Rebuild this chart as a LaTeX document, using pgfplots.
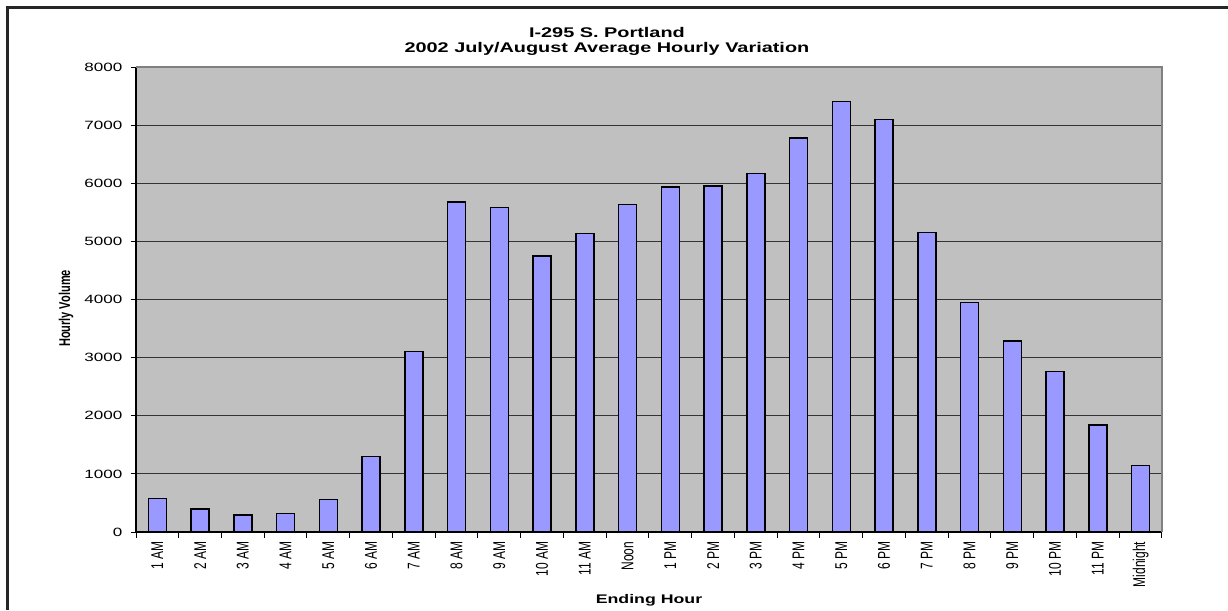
\documentclass[border=0pt]{standalone}
\usepackage{fontspec}
\setmainfont{Liberation Sans}
\newfontfamily\wide[FakeStretch=1.42]{Liberation Sans}
\usepackage{graphicx}
\usepackage{pgfplots}
\pgfplotsset{compat=1.18}

\definecolor{barblue}{HTML}{9999FF}
\definecolor{plotbg}{HTML}{C0C0C0}
\definecolor{edgegray}{HTML}{808080}

% rotated tick label, stretched sideways like the source image
\newcommand\rl[1]{\scalebox{1.42}[1]{\rotatebox{90}{#1}}}

\begin{document}
\begin{tikzpicture}
\path[use as bounding box] (0,0) rectangle (1228pt,610pt);
\draw[line width=3pt, black!85] (7.5pt,0) -- (7.5pt,602.5pt) -- (1228pt,602.5pt);

\begin{axis}[
    at={(136pt,78pt)}, anchor=south west,
    width=1026pt, height=465pt, scale only axis,
    xmin=0.5, xmax=24.5,
    ymin=0, ymax=8000,
    ytick={0,1000,...,8000},
    xtick={0.5,1.5,...,24.5},
    x tick label as interval,
    xticklabels={\rl{1 AM},\rl{2 AM},\rl{3 AM},\rl{4 AM},\rl{5 AM},\rl{6 AM},
        \rl{7 AM},\rl{8 AM},\rl{9 AM},\rl{10 AM},\rl{11 AM},\rl{Noon},
        \rl{1 PM},\rl{2 PM},\rl{3 PM},\rl{4 PM},\rl{5 PM},\rl{6 PM},
        \rl{7 PM},\rl{8 PM},\rl{9 PM},\rl{10 PM},\rl{11 PM},\rl{Midnight}},
    axis lines*=left,
    axis line style={-, black, line width=1.2pt},
    axis background/.style={fill=plotbg},
    tick align=outside,
    major tick length=5.5pt,
    tick style={black, line width=1pt},
    ymajorgrids=true,
    grid style={black!80, line width=1.1pt},
    /pgf/number format/assume math mode=true,
    /pgf/number format/1000 sep={},
    yticklabel style={font=\fontsize{12}{14}\wide, inner sep=0pt, xshift=-8pt},
    xticklabel style={font=\fontsize{12}{14}\selectfont, inner sep=0pt, anchor=north, yshift=-4pt},
    every axis title/.style={at={(axis description cs:0.459,1)}, anchor=south,
        align=center, inner sep=0pt, yshift=11.5pt,
        font=\fontsize{14}{14.5}\wide\bfseries},
    title={I-295 S. Portland\\2002 July/August Average Hourly Variation},
    every axis x label/.style={at={(axis description cs:0.5,0)}, anchor=base,
        yshift=-71pt, font=\fontsize{12.5}{14}\wide\bfseries},
    xlabel={Ending Hour},
    every axis y label/.style={at={(axis description cs:0,0.5)}, anchor=center,
        xshift=-70pt, yshift=-9pt, font=\fontsize{11}{13}\selectfont\bfseries},
    ylabel={\rl{Hourly Volume}},
    ybar, bar width=18pt,
    clip=false,
]
\addplot[fill=barblue, draw=black, line width=1.5pt] coordinates {
    (1,580) (2,400) (3,290) (4,320) (5,560) (6,1300)
    (7,3105) (8,5675) (9,5580) (10,4745) (11,5135) (12,5635)
    (13,5935) (14,5950) (15,6165) (16,6780) (17,7410) (18,7100)
    (19,5155) (20,3950) (21,3290) (22,2760) (23,1845) (24,1140)
};
\draw[edgegray, line width=1.5pt] (rel axis cs:0,1) -- (rel axis cs:1,1) -- (rel axis cs:1,0);
\end{axis}
\end{tikzpicture}
\end{document}
